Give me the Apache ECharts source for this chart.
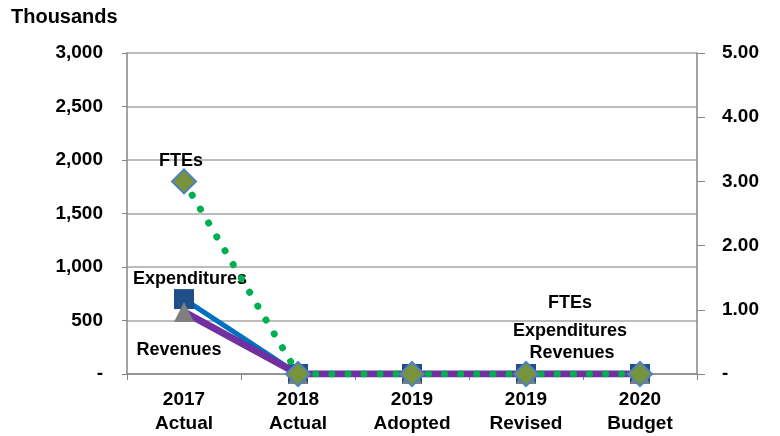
<!DOCTYPE html>
<html><head><meta charset="utf-8">
<script src="https://cdn.jsdelivr.net/npm/echarts@6/dist/echarts.min.js"></script>
<style>html,body{margin:0;padding:0;background:#fff}#c{width:780px;height:436px}</style>
</head><body><div id="c"></div>
<script>
const categories = ['2017\nActual', '2018\nActual', '2019\nAdopted', '2019\nRevised', '2020\nBudget'];
const expenditures = [700, 0, 0, 0, 0];
const revenues = [580, 0, 0, 0, 0];
const ftes = [3.0, 0, 0, 0, 0];
const leftTicks = [0, 500, 1000, 1500, 2000, 2500, 3000];
const rightTicks = [0, 1, 2, 3, 4, 5];

const FONT = 'Liberation Sans, Arial, sans-serif';
const lblBase = {show: true, color: '#000', fontFamily: FONT, fontWeight: 'bold', fontSize: 18, position: 'inside'};

function build(values, labels) {
  return values.map((v, i) => labels[i] ? {value: v, label: Object.assign({}, lblBase, labels[i])} : {value: v});
}

const chart = echarts.init(document.getElementById('c'), null, {renderer: 'canvas'});
chart.setOption({
  animation: false,
  grid: {left: 127, right: 83, top: 53, bottom: 62},
  graphic: [{type: 'text', left: 11, top: 7, style: {text: 'Thousands', font: 'bold 20px ' + FONT, fill: '#000'}}],
  xAxis: {
    type: 'category', data: categories, boundaryGap: true,
    axisLine: {lineStyle: {color: '#868686', width: 1.5}},
    axisTick: {show: true, length: 6, lineStyle: {color: '#868686'}},
    axisLabel: {color: '#000', fontFamily: FONT, fontWeight: 'bold', fontSize: 19, lineHeight: 24, margin: 14}
  },
  yAxis: [{
    type: 'value', min: 0, max: 3000, interval: 500,
    axisLine: {show: true, lineStyle: {color: '#868686', width: 1.5}},
    axisTick: {show: true, length: 5, lineStyle: {color: '#868686'}},
    splitLine: {lineStyle: {color: '#A6A6A6', width: 1.5}},
    axisLabel: {color: '#000', fontFamily: FONT, fontWeight: 'bold', fontSize: 19, margin: 24,
      formatter: v => v === 0 ? '-' : v.toLocaleString('en-US')}
  }, {
    type: 'value', min: 0, max: 5, interval: 1, position: 'right',
    axisLine: {show: true, lineStyle: {color: '#868686', width: 1.5}},
    axisTick: {show: true, length: 8, lineStyle: {color: '#868686'}},
    splitLine: {show: false},
    axisLabel: {color: '#000', fontFamily: FONT, fontWeight: 'bold', fontSize: 19, margin: 25,
      formatter: v => v === 0 ? '-' : v.toFixed(2)}
  }],
  series: [{
    name: 'Expenditures', type: 'line', yAxisIndex: 0,
    data: build(expenditures, {0: {formatter: 'Expenditures', offset: [6, -20]}, 3: {formatter: 'Expenditures', offset: [44, -43]}}),
    symbol: 'rect', symbolSize: 20,
    itemStyle: {color: '#1F4E89'},
    lineStyle: {color: '#0070C0', width: 5},
    label: {show: false}, z: 2
  }, {
    name: 'Revenues', type: 'line', yAxisIndex: 0,
    data: build(revenues, {0: {formatter: 'Revenues', offset: [-5, 38]}, 3: {formatter: 'Revenues', offset: [46, -21]}}),
    symbol: 'triangle', symbolSize: 20,
    itemStyle: {color: '#7F7F7F'},
    lineStyle: {color: '#7030A0', width: 7},
    label: {show: false}, z: 3
  }, {
    name: 'FTEs', type: 'line', yAxisIndex: 1,
    data: build(ftes, {0: {formatter: 'FTEs', offset: [-3, -20]}, 3: {formatter: 'FTEs', offset: [44, -71]}}),
    symbol: 'diamond', symbolSize: 24,
    itemStyle: {color: '#77933C', borderColor: '#4F81BD', borderWidth: 2},
    lineStyle: {color: '#00B050', width: 7, type: [0.1, 16], cap: 'round'},
    label: {show: false}, z: 4
  }]
});
</script></body></html>
